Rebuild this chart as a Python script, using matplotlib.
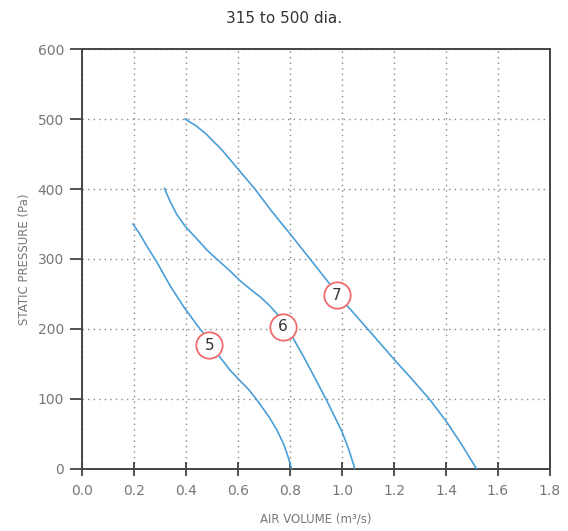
import numpy as np
import matplotlib.pyplot as plt

# fan curves (air volume m3/s, static pressure Pa)
x5 = [0.196, 0.22, 0.25, 0.287, 0.34, 0.396, 0.454, 0.49, 0.53, 0.57, 0.6, 0.64, 0.672, 0.72, 0.749, 0.775, 0.793, 0.8, 0.806]
y5 = [350, 337, 318, 296, 261, 229, 200, 183, 160, 141, 129, 114, 99, 74, 56, 36, 17, 8, 0]

x6 = [0.317, 0.338, 0.364, 0.396, 0.441, 0.48, 0.518, 0.569, 0.608, 0.65, 0.685, 0.72, 0.749, 0.78, 0.813, 0.85, 0.89, 0.941, 0.999, 1.025, 1.05]
y6 = [401, 383, 364, 347, 329, 313, 300, 283, 269, 256, 246, 234, 222, 205, 186, 162, 134, 98, 54, 29, 0]

x7 = [0.396, 0.44, 0.479, 0.54, 0.601, 0.665, 0.73, 0.8, 0.877, 0.947, 0.979, 1.018, 1.101, 1.204, 1.27, 1.338, 1.403, 1.46, 1.518]
y7 = [500, 490, 478, 455, 428, 400, 368, 336, 300, 267, 252, 234, 199, 155, 128, 99, 67, 35, 0]

labels = ['5', '6', '7']
label_x = [0.49, 0.774, 0.979]
label_y = [177, 203, 248]

xticks = [0.0, 0.2, 0.4, 0.6, 0.8, 1.0, 1.2, 1.4, 1.6, 1.8]
yticks = [0, 100, 200, 300, 400, 500, 600]

fig = plt.figure(figsize=(5.68, 5.31), dpi=100)
ax = fig.add_axes([0.1444, 0.1168, 0.8239, 0.7909])

line_col = '#4a9fd8'
for xs, ys in [(x5, y5), (x6, y6), (x7, y7)]:
    ax.plot(xs, ys, color=line_col, lw=1.2, zorder=3, solid_joinstyle='round')

ax.scatter(label_x, label_y, s=360, facecolor='white', edgecolor='#f26b6b', lw=1.3, zorder=4)
for t, lx, ly in zip(labels, label_x, label_y):
    ax.text(lx, ly, t, ha='center', va='center', fontsize=11, color='#333333', zorder=5)

ax.set_xlim(0, 1.8)
ax.set_ylim(0, 600)
ax.set_xticks(xticks)
ax.set_yticks(yticks)
ax.set_xticklabels(['%.1f' % v for v in xticks])
ax.grid(True, linestyle=(0, (1, 3)), color='#888888', lw=1.0)
ax.tick_params(axis='x', direction='inout', length=10, width=1.2, colors='#333333',
               labelcolor='#777777', labelsize=10, pad=6)
ax.tick_params(axis='y', direction='out', length=9, width=1.2, colors='#333333',
               labelcolor='#777777', labelsize=10, pad=4)
for s in ax.spines.values():
    s.set_color('#444444')
    s.set_linewidth(1.4)

ax.set_xlabel('AIR VOLUME (m³/s)', fontsize=8.5, color='#777777', labelpad=10)
ax.set_ylabel('STATIC PRESSURE (Pa)', fontsize=8.5, color='#777777', labelpad=5)
fig.text(0.5, 0.965, '315 to 500 dia.', ha='center', va='center', fontsize=11, color='#333333')

fig.savefig('out.png', dpi=100)
